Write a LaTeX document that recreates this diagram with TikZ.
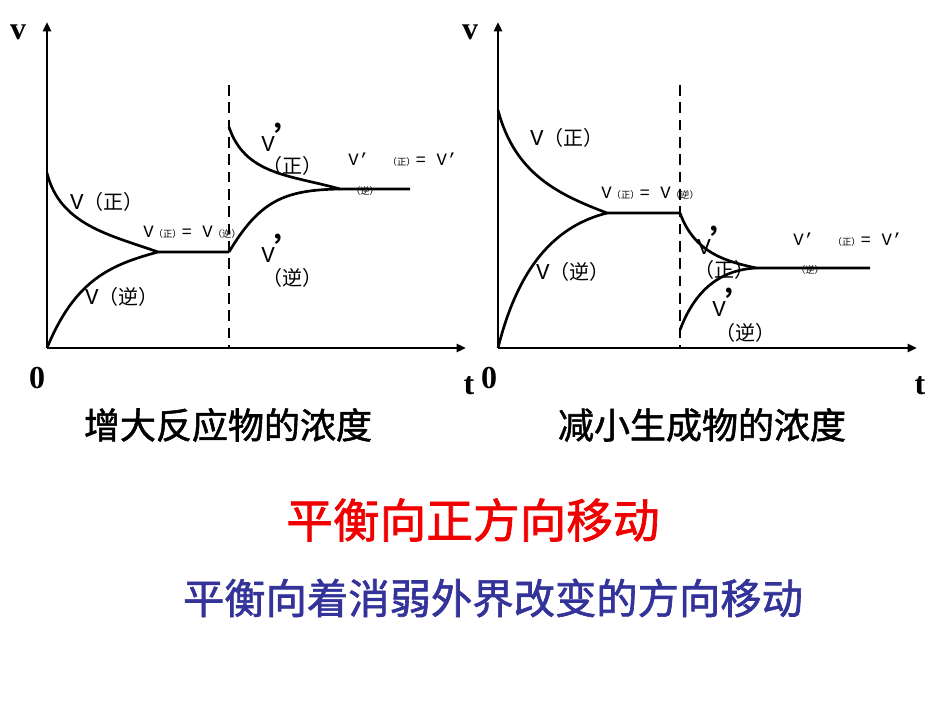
\documentclass[tikz,border=0pt]{standalone}
\usepackage{fontspec}
\newfontfamily\cjk{Noto Sans CJK SC}
\newfontfamily\cjkb{Noto Sans CJK SC}[FakeBold=1.5]
\newfontfamily\mono{Liberation Mono}
\setmainfont{Liberation Serif}
\usetikzlibrary{arrows.meta}
\begin{document}
\begin{tikzpicture}[x=0.75pt,y=-0.75pt,
  ax/.style={line width=2pt,-{Triangle[length=7pt,width=6pt]}},
  cv/.style={line width=2pt},
  dsh/.style={line width=1.5pt,dash pattern=on 8pt off 5pt},
  lab/.style={font=\fontsize{15}{15}\selectfont\cjk,inner sep=0pt},
  sm/.style={font=\fontsize{7}{7}\selectfont\cjk,inner sep=0pt},
  big/.style={font=\fontsize{24}{24}\selectfont\bfseries,inner sep=0pt},
  captxt/.style={font=\fontsize{27}{27}\selectfont\cjkb,inner sep=0pt}]
\path[use as bounding box] (0,0) rectangle (950,713);
\newcommand\vp{{\fontsize{17}{17}\selectfont\mono V}\rlap{\raisebox{1pt}{\fontsize{24}{24}\selectfont\bfseries ’}}}
\newcommand\mv{{\fontsize{17}{17}\selectfont\mono V}}
% left chart
\coordinate (O1) at (47,348);
\draw[ax] (O1) -- (47,22);
\draw[ax] (O1) -- (466,348);
\draw[dsh] (229,85) -- (229,348);
\coordinate (e1) at (158,252);
\coordinate (d1) at (229,252);
\coordinate (e2) at (340,189);
\draw[cv] (47,173) .. controls (60,225) and (110,235) .. (e1) -- (d1);
\draw[cv] (O1) .. controls (75,280) and (110,265) .. (e1);
\draw[cv] (229,127) .. controls (245,175) and (290,175) .. (e2) -- (410,189);
\draw[cv] (d1) .. controls (260,200) and (285,190) .. (e2);
\node[lab] (l1) at (107,202) {\mv（正）};
\node[lab] (l2) at (122,297) {\mv（逆）};
\node[sm,anchor=west] (l3) at (143,232) {{\fontsize{13}{13}\selectfont\mono V}（正）{\fontsize{13}{13}\selectfont\mono = V}（逆）};
\node[lab,anchor=west] (l4) at (261,137) {\vp};
\node[lab] (l5) at (292,166) {（正）};
\node[sm,anchor=west] (l6) at (348,160) {{\fontsize{13}{13}\selectfont\mono V’}\qquad（正）{\fontsize{13}{13}\selectfont\mono = V’}};
\node[sm] (l7) at (365,191) {（逆）};
\node[lab,anchor=west] (l8) at (261,248) {\vp};
\node[lab] (l9) at (292,278) {（逆）};
\node[big] (v1) at (18,32) {v};
\node[big] (z1) at (37,378) {0};
\node[big] (t1) at (469,386) {t};
\node[captxt] (c1) at (228,425) {增大反应物的浓度};
% right chart
\coordinate (O2) at (498,348);
\draw[ax] (O2) -- (498,22);
\draw[ax] (O2) -- (917,348);
\draw[dsh] (680,85) -- (680,348);
\coordinate (f1) at (607,213);
\coordinate (g1) at (680,213);
\coordinate (f2) at (756,268);
\draw[cv] (498,110) .. controls (515,175) and (560,195) .. (f1) -- (g1);
\draw[cv] (O2) .. controls (520,260) and (560,225) .. (f1);
\draw[cv] (g1) .. controls (695,255) and (730,262) .. (f2) -- (870,268);
\draw[cv] (680,330) .. controls (695,290) and (720,270) .. (f2);
\node[lab] (r1) at (567,138) {\mv（正）};
\node[lab] (r2) at (573,272) {\mv（逆）};
\node[sm,anchor=west] (r3) at (601,193) {{\fontsize{13}{13}\selectfont\mono V}（正）{\fontsize{13}{13}\selectfont\mono = V}（逆）};
\node[lab,anchor=west] (r4) at (697,240) {\vp};
\node[lab] (r5) at (724,270) {（正）};
\node[lab,anchor=west] (r6) at (712,302) {\vp};
\node[lab] (r7) at (745,333) {（逆）};
\node[sm,anchor=west] (r8) at (793,240) {{\fontsize{13}{13}\selectfont\mono V’}\qquad（正）{\fontsize{13}{13}\selectfont\mono = V’}};
\node[sm] (r9) at (810,270) {（逆）};
\node[big] (v2) at (470,32) {v};
\node[big] (z2) at (489,378) {0};
\node[big] (t2) at (920,386) {t};
\node[captxt] (c2) at (702,425) {减小生成物的浓度};
% conclusions
\node[font=\fontsize{35}{35}\selectfont\cjkb,text={rgb,255:red,240;green,0;blue,0},inner sep=0pt] (m1) at (473,520) {平衡向正方向移动};
\node[font=\fontsize{31}{31}\selectfont\cjkb,text={rgb,255:red,51;green,51;blue,153},inner sep=0pt] (m2) at (493,598) {平衡向着消弱外界改变的方向移动};
\end{tikzpicture}
\end{document}
